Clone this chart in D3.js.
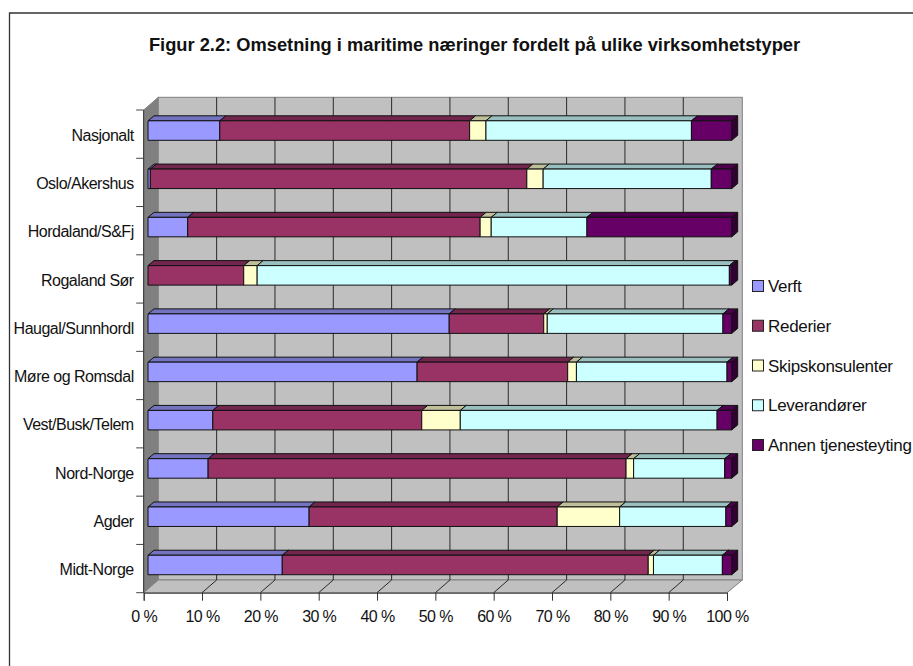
<!DOCTYPE html>
<html><head><meta charset="utf-8">
<script src="https://cdn.jsdelivr.net/npm/d3@7/dist/d3.min.js"></script>
<style>html,body{margin:0;padding:0;background:#fff}svg{display:block}text{font-family:"Liberation Sans",Arial,sans-serif;fill:#111}</style>
</head><body><div id="c"></div>
<script>
const titleText = "Figur 2.2: Omsetning i maritime næringer fordelt på ulike virksomhetstyper";
const categories = ["Nasjonalt","Oslo/Akershus","Hordaland/S&Fj","Rogaland Sør","Haugal/Sunnhordl","Møre og Romsdal","Vest/Busk/Telem","Nord-Norge","Agder","Midt-Norge"];
const seriesNames = ["Verft","Rederier","Skipskonsulenter","Leverandører","Annen tjenesteyting"];
const verft    = [12.3, 0.4, 6.8, 0, 51.6, 46.1, 11.1, 10.3, 27.6, 23.0];
const rederier = [42.8, 64.5, 50.1, 16.4, 16.2, 25.8, 35.8, 71.6, 42.5, 62.7];
const skips    = [2.8, 2.8, 1.9, 2.3, 0.6, 1.5, 6.6, 1.3, 10.7, 0.9];
const lever    = [35.2, 28.8, 16.4, 80.9, 30.1, 25.8, 44.0, 15.6, 18.2, 11.8];
const annen    = [6.9, 3.5, 24.8, 0.4, 1.5, 0.8, 2.5, 1.2, 1.0, 1.6];
const colors   = ["#9999FF","#993366","#FFFFCC","#CCFFFF","#660066"];
const tops     = ["#7373BF","#73264D","#BFBF99","#99BFBF","#4D004D"];
const sides    = ["#4D4D80","#4D1A33","#808066","#668080","#330033"];
const xTicks   = [0,10,20,30,40,50,60,70,80,90,100];

const W=913,H=666;
const svg=d3.select("#c").append("svg").attr("width",W).attr("height",H);

// frame (only top and left edges fall inside the picture)
svg.append("path").attr("d","M9.5,666V13H913").attr("fill","none").attr("stroke","#333").attr("stroke-width",1.3);

svg.append("text").attr("x",474.5).attr("y",50.5).attr("text-anchor","middle")
  .attr("font-size",18.3).attr("font-weight","bold").attr("letter-spacing",0).text(titleText);

// plot box geometry
const x0=143.7,x1=727,y0=110,y1=592.7,wallDx=14.6,wallDy=12.7;
const x=d3.scaleLinear().domain([0,100]).range([x0,x1]);
const y=d3.scaleBand().domain(categories).range([y0,y1]);
const barX=d3.scaleLinear().domain([0,100]).range([148,731.7]);
const barDx=6,barDy=5,faceTop=10.8,faceH=19.5;

const poly=pts=>"M"+pts.map(p=>p.join(",")).join("L")+"Z";
// walls and floor
svg.append("path").attr("d",poly([[x0,y0],[x0+wallDx,y0-wallDy],[x0+wallDx,y1-wallDy],[x0,y1]])).attr("fill","#808080").attr("stroke","#808080");
svg.append("rect").attr("x",x0+wallDx).attr("y",y0-wallDy).attr("width",x1-x0+0.7).attr("height",y1-y0)
  .attr("fill","#C0C0C0").attr("stroke","#808080").attr("stroke-width",1);
svg.append("path").attr("d",poly([[x0,y1],[x0+wallDx,y1-wallDy],[x1+wallDx+0.7,y1-wallDy],[x1,y1]])).attr("fill","#C0C0C0").attr("stroke","#808080");

// gridlines on the back wall and the floor
const inner=xTicks.slice(1,-1);
svg.append("g").selectAll("path").data(inner).join("path")
  .attr("d",d=>`M${x(d)},${y1}L${x(d)+wallDx},${y1-wallDy}V${y0-wallDy}`)
  .attr("fill","none").attr("stroke","#2a2a2a").attr("stroke-width",1);

// category axis
const axisY=svg.append("g").attr("transform",`translate(${x0},0)`)
  .call(d3.axisLeft(y).tickSize(0).tickPadding(10));
axisY.select(".domain").remove();
axisY.selectAll("text").attr("font-size",16).attr("letter-spacing",-0.5).attr("dy","0.42em").style("font-family",'"Liberation Sans",Arial,sans-serif').style("fill","#111");
const yEdges=categories.map(c=>y(c)).concat([y1]);
svg.append("g").selectAll("line").data(yEdges).join("line")
  .attr("x1",x0-7.5).attr("x2",x0).attr("y1",d=>d).attr("y2",d=>d).attr("stroke","#444");
svg.append("line").attr("x1",x0).attr("x2",x0).attr("y1",y0).attr("y2",y1).attr("stroke","#333");

// value axis
const axisX=svg.append("g").attr("transform",`translate(0,${y1})`)
  .call(d3.axisBottom(x).tickValues(xTicks).tickSize(8).tickPadding(9.6).tickFormat(d=>d+" %"));
axisX.select(".domain").attr("stroke","#333");
axisX.selectAll("line").attr("stroke","#333");
axisX.selectAll("text").attr("font-size",16).attr("letter-spacing",-0.6).style("font-family",'"Liberation Sans",Arial,sans-serif').style("fill","#111");

// stacked bars
const table=categories.map((c,i)=>({cat:c,[seriesNames[0]]:verft[i],[seriesNames[1]]:rederier[i],[seriesNames[2]]:skips[i],[seriesNames[3]]:lever[i],[seriesNames[4]]:annen[i]}));
const stacked=d3.stack().keys(seriesNames)(table);
const bars=svg.append("g").attr("stroke","#111").attr("stroke-width",1).attr("stroke-linejoin","round");
stacked.forEach((layer,si)=>{
  const g=bars.append("g");
  layer.filter(d=>d[1]-d[0]>0).forEach(d=>{
    const l=barX(d[0]),r=barX(d[1]),t=y(d.data.cat)+faceTop,b=t+faceH;
    g.append("path").attr("d",poly([[r,t],[r+barDx,t-barDy],[r+barDx,b-barDy],[r,b]])).attr("fill",sides[si]);
    g.append("path").attr("d",poly([[l,t],[l+barDx,t-barDy],[r+barDx,t-barDy],[r,t]])).attr("fill",tops[si]);
    g.append("rect").attr("x",l).attr("y",t).attr("width",r-l).attr("height",faceH).attr("fill",colors[si]);
  });
});

// legend
const ly=d3.scalePoint().domain(seriesNames).range([286,445]);
const leg=svg.append("g").selectAll("g").data(seriesNames).join("g").attr("transform",d=>`translate(752.5,${ly(d)})`);
leg.append("rect").attr("x",0).attr("y",-5.5).attr("width",11).attr("height",11)
  .attr("fill",(d,i)=>colors[i]).attr("stroke","#222");
leg.append("text").attr("x",15.5).attr("y",6).attr("font-size",17).attr("letter-spacing",-0.3).text(d=>d);
</script></body></html>
